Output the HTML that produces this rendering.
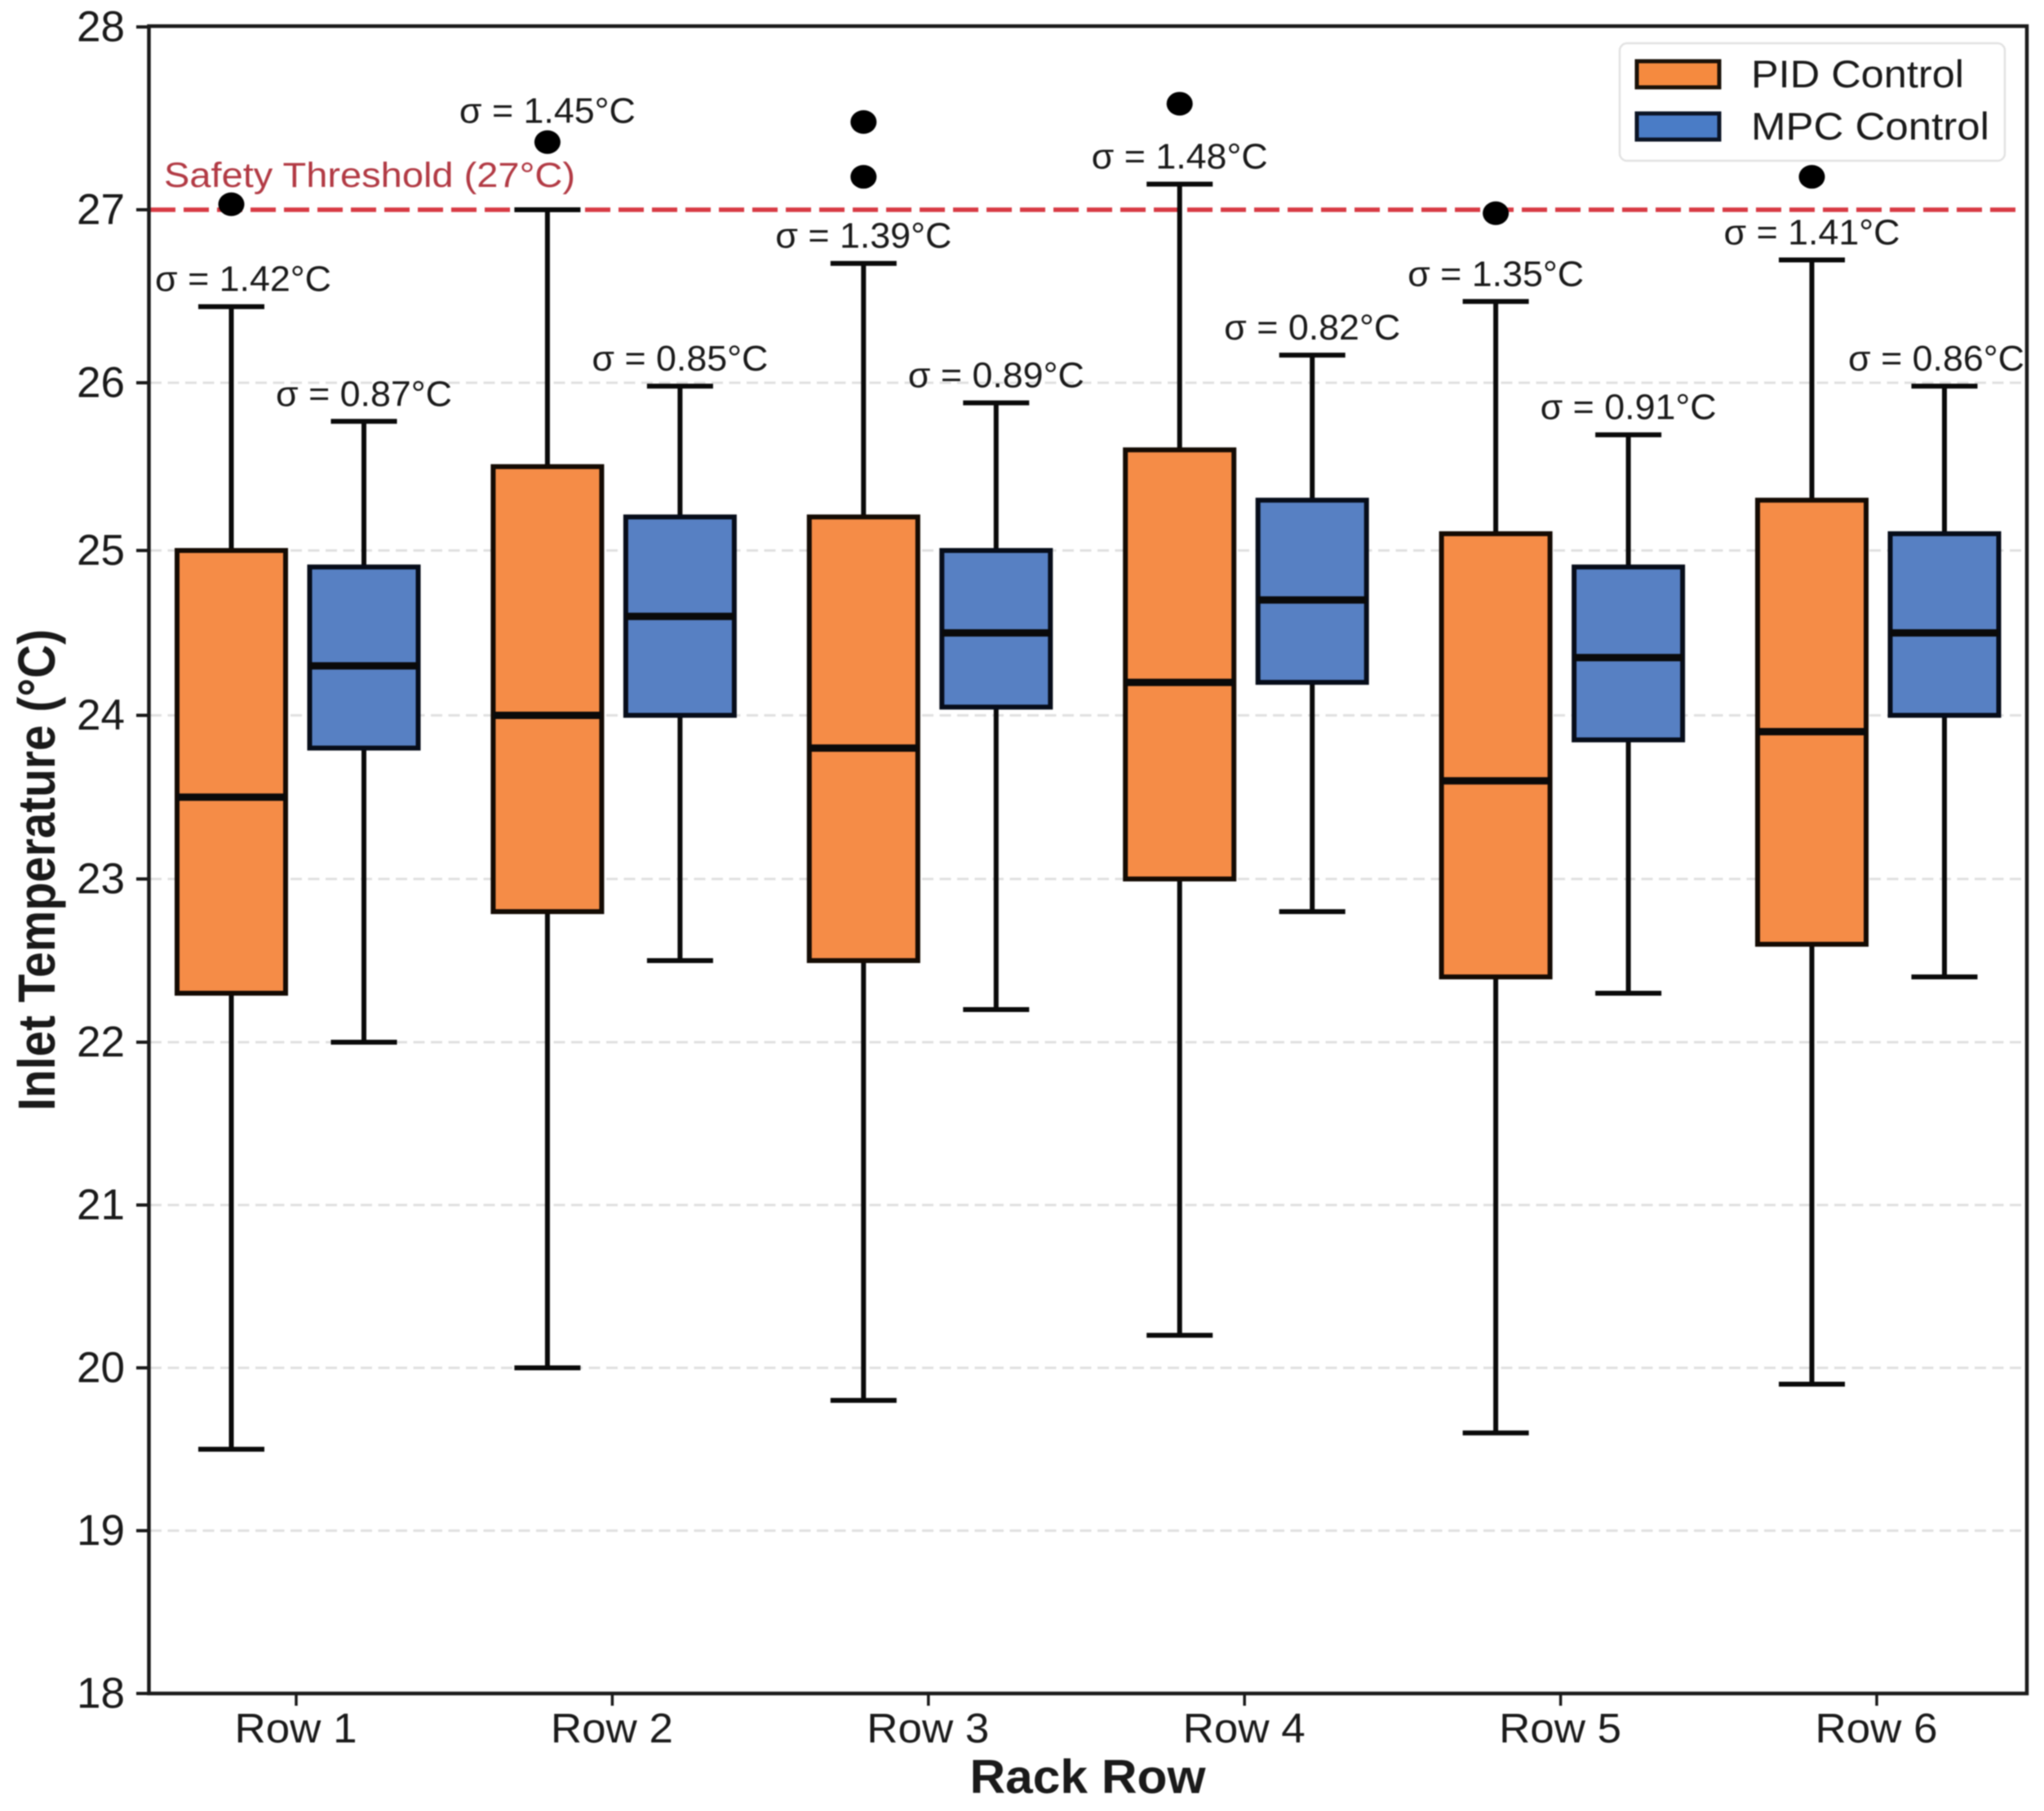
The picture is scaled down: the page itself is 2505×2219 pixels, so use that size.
<!DOCTYPE html>
<html lang="en">
<head>
<meta charset="utf-8">
<title>Inlet Temperature by Rack Row</title>
<style>
html,body{margin:0;padding:0;background:#fff;}
svg{display:block;font-family:"Liberation Sans",sans-serif;filter:blur(0.7px);}
</style>
</head>
<body>
<svg id="chart" xmlns="http://www.w3.org/2000/svg" width="2505" height="2219" viewBox="0 0 2505 2219">
  <rect x="0" y="0" width="2505" height="2219" fill="#ffffff"/>
  <g id="grid"></g>
  <g id="threshold"></g>
  <g id="marks"></g>
  <g id="labels"></g>
  <rect x="182.5" y="32" width="2301.5" height="2043" fill="none" stroke="#1a1a1a" stroke-width="4.5"/>
  <g id="axes"></g>
  <text x="1333" y="2197" text-anchor="middle" font-size="58" font-weight="bold" fill="#1a1a1a" textLength="289" lengthAdjust="spacingAndGlyphs">Rack Row</text>
  <text transform="translate(67 1066) rotate(-90)" text-anchor="middle" font-size="64" font-weight="bold" fill="#1a1a1a" textLength="590" lengthAdjust="spacingAndGlyphs">Inlet Temperature (°C)</text>
  <g>
    <rect x="1985" y="53" width="472" height="144" rx="9" ry="9" fill="#ffffff" fill-opacity="0.85" stroke="#e2e2e2" stroke-width="2.5"/>
    <rect x="2006" y="75" width="101" height="32" fill="#F58A3F" stroke="#1a1209" stroke-width="5"/>
    <text x="2146" y="107" font-size="47" fill="#1a1a1a" textLength="261" lengthAdjust="spacingAndGlyphs">PID Control</text>
    <rect x="2006" y="139" width="101" height="32" fill="#4A7CC6" stroke="#0c1526" stroke-width="5"/>
    <text x="2146" y="171" font-size="47" fill="#1a1a1a" textLength="292" lengthAdjust="spacingAndGlyphs">MPC Control</text>
  </g>
</svg>
<script>
const categories = ["Row 1", "Row 2", "Row 3", "Row 4", "Row 5", "Row 6"];
const yTicks = [18, 19, 20, 21, 22, 23, 24, 25, 26, 27, 28];
const gridValues = [19, 20, 21, 22, 23, 24, 25, 26];
const thresholdValue = 27;
const thresholdLabel = "Safety Threshold (27°C)";

const pidLow = [19.5, 20.0, 19.8, 20.2, 19.6, 19.9];
const pidQ1 = [22.3, 22.8, 22.5, 23.0, 22.4, 22.6];
const pidMedian = [23.5, 24.0, 23.8, 24.2, 23.6, 23.9];
const pidQ3 = [25.0, 25.5, 25.2, 25.6, 25.1, 25.3];
const pidHigh = [26.44, 27.0, 26.69, 27.14, 26.47, 26.71];
const pidOutliers = [[27.03], [27.37], [27.18, 27.48], [27.58], [26.98], [27.18]];
const pidSigma = [1.42, 1.45, 1.39, 1.48, 1.35, 1.41];
const pidLabelLift = [0, 0.39, 0, 0, 0, 0];

const mpcLow = [22.0, 22.5, 22.2, 22.8, 22.3, 22.4];
const mpcQ1 = [23.8, 24.0, 24.05, 24.2, 23.85, 24.0];
const mpcMedian = [24.3, 24.6, 24.5, 24.7, 24.35, 24.5];
const mpcQ3 = [24.9, 25.2, 25.0, 25.3, 24.9, 25.1];
const mpcHigh = [25.77, 25.98, 25.88, 26.16, 25.69, 25.98];
const mpcOutliers = [[], [], [], [], [], []];
const mpcSigma = [0.87, 0.85, 0.89, 0.82, 0.91, 0.86];
const mpcLabelLift = [0, 0, 0, 0, 0, 0];

const NS = "http://www.w3.org/2000/svg";
const INK = "#0a0a0a";

function yScale(v) {
  // The axis is not evenly spaced in the reference: it stretches towards the top.
  const step = [199.5, 199.5, 199.5, 199.5, 200, 200.5, 202, 205.5, 212, 224];
  let py = 2075;
  let cur = 18;
  for (let k = 0; k < step.length; k++) {
    if (v <= cur + 1 || k === step.length - 1) {
      return py - (v - cur) * step[k];
    }
    py -= step[k];
    cur += 1;
  }
  return py;
}
function xCenter(i) {
  return 363 + 387.4 * i;
}
function make(parent, tag, attrs, text) {
  const el = document.createElementNS(NS, tag);
  for (const k in attrs) el.setAttribute(k, attrs[k]);
  if (text !== undefined) el.textContent = text;
  parent.appendChild(el);
  return el;
}

const gridG = document.getElementById("grid");
const thresholdG = document.getElementById("threshold");
const marksG = document.getElementById("marks");
const labelsG = document.getElementById("labels");
const axesG = document.getElementById("axes");

gridValues.forEach(function (v) {
  const line = make(gridG, "line", {x1: 184, x2: 2482, y1: yScale(v), y2: yScale(v), stroke: "#e0e0e0", "stroke-width": 3, "stroke-dasharray": "14 7.5"});
  
  
});

const thresholdLine = make(thresholdG, "line", {x1: 184, x2: 2472, y1: yScale(thresholdValue), y2: yScale(thresholdValue), stroke: "#D83A44", "stroke-width": 5.5, "stroke-dasharray": "31 10"});


const thresholdText = make(thresholdG, "text", {x: 201, y: yScale(thresholdValue) - 28, "font-size": 43, fill: "#B23A44", textLength: 504, lengthAdjust: "spacingAndGlyphs"}, thresholdLabel);



function drawBox(series, i, cx, low, q1, med, q3, high, outliers, fill, edge) {
  const g = make(marksG, "g", {});
  
  
  const halfBox = 66.5;
  const halfCap = 40.5;

  const upper = make(g, "line", {x1: cx, x2: cx, y1: yScale(q3), y2: yScale(high), stroke: INK, "stroke-width": 6});
  
  
  const lower = make(g, "line", {x1: cx, x2: cx, y1: yScale(q1), y2: yScale(low), stroke: INK, "stroke-width": 6});
  
  
  const capHigh = make(g, "line", {x1: cx - halfCap, x2: cx + halfCap, y1: yScale(high), y2: yScale(high), stroke: INK, "stroke-width": 6});
  
  
  const capLow = make(g, "line", {x1: cx - halfCap, x2: cx + halfCap, y1: yScale(low), y2: yScale(low), stroke: INK, "stroke-width": 6});
  
  

  const box = make(g, "rect", {x: cx - halfBox, y: yScale(q3), width: halfBox * 2, height: yScale(q1) - yScale(q3), fill: fill, stroke: edge, "stroke-width": 6});
  
  
  const medLine = make(g, "line", {x1: cx - halfBox, x2: cx + halfBox, y1: yScale(med), y2: yScale(med), stroke: INK, "stroke-width": 9});
  
  

  outliers.forEach(function (o) {
    const dot = make(g, "ellipse", {cx: cx, cy: yScale(o), rx: 16, ry: 14.5, fill: "#000000"});
    
    
  });
}

function drawSigma(series, i, cx, high, lift, sigma) {
  const halfText = 108;
  const x = Math.min(Math.max(cx, 190 + halfText), 2481 - halfText);
  const y = yScale(high + lift) - 19;
  const t = make(labelsG, "text", {x: x, y: y, "text-anchor": "middle", "font-size": 44, fill: "#1a1a1a", textLength: 216, lengthAdjust: "spacingAndGlyphs"}, "σ = " + sigma.toFixed(2) + "°C");
  
  
}

categories.forEach(function (name, i) {
  const pidX = xCenter(i) - 79.5;
  const mpcX = xCenter(i) + 83;
  drawBox("pid", i, pidX, pidLow[i], pidQ1[i], pidMedian[i], pidQ3[i], pidHigh[i], pidOutliers[i], "#F58C47", "#140b04");
  drawBox("mpc", i, mpcX, mpcLow[i], mpcQ1[i], mpcMedian[i], mpcQ3[i], mpcHigh[i], mpcOutliers[i], "#5780C3", "#070d1a");
  drawSigma("pid", i, pidX, pidHigh[i], pidLabelLift[i], pidSigma[i]);
  drawSigma("mpc", i, mpcX, mpcHigh[i], mpcLabelLift[i], mpcSigma[i]);

  const tick = make(axesG, "line", {x1: xCenter(i), x2: xCenter(i), y1: 2075, y2: 2090, stroke: "#1a1a1a", "stroke-width": 3.5});
  
  
  const lab = make(axesG, "text", {x: xCenter(i) - 0.5, y: 2135, "text-anchor": "middle", "font-size": 51, fill: "#1a1a1a", textLength: 150, lengthAdjust: "spacingAndGlyphs"}, name);
  
  
});

yTicks.forEach(function (v) {
  const tick = make(axesG, "line", {x1: 167, x2: 182, y1: yScale(v), y2: yScale(v), stroke: "#1a1a1a", "stroke-width": 4});
  
  
  const lab = make(axesG, "text", {x: 153, y: yScale(v) + 17.5, "text-anchor": "end", "font-size": 53, fill: "#1a1a1a"}, String(v));
  
  
});
</script>
</body>
</html>
